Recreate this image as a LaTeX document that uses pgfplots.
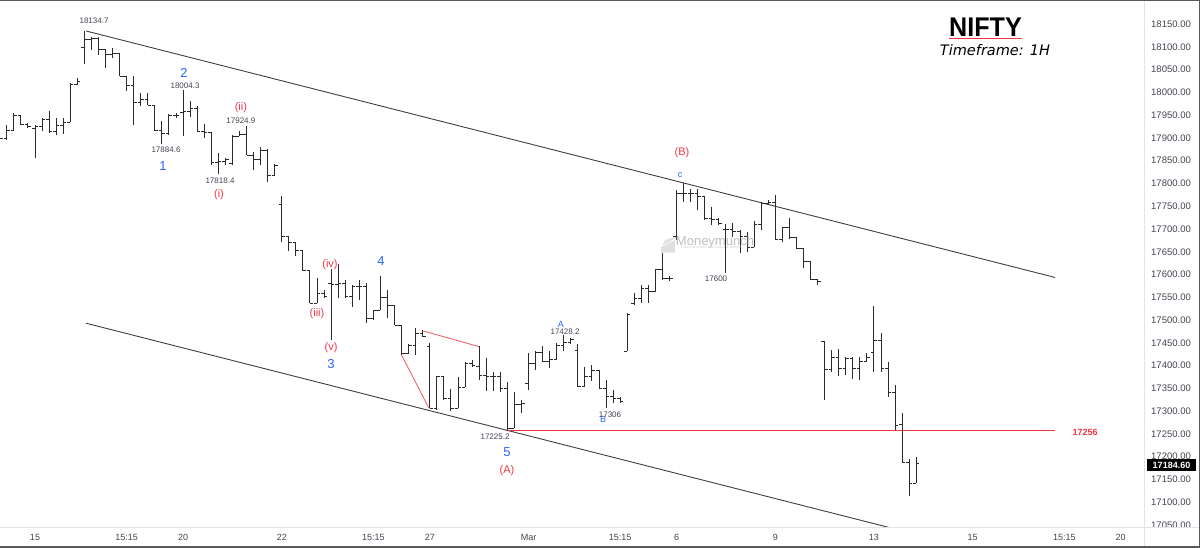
\documentclass[border=0pt]{standalone}
\usepackage{pgfplots}
\pgfplotsset{compat=1.18}
\usepackage{pgfplotstable}
\usepackage{fontspec}
\setmainfont{Liberation Sans}
\newfontfamily\dejavu{DejaVu Sans}
\definecolor{tvblue}{HTML}{2962FF}
\definecolor{tvred}{HTML}{F23645}
\definecolor{barcol}{HTML}{2A2A2A}
\definecolor{sepcol}{HTML}{E0E3EB}
\definecolor{txtcol}{HTML}{434651}

\pgfplotstableread{
i o h l c
-5 17910 17928 17852 17898
-4 17898 17928 17895 17917
-3 17917 17954 17915 17950
-2 17950 17950 17928 17930
-1 17930 17932 17921 17925
0 17920 17928 17855 17924
1 17924 17943 17914 17941
2 17941 17959 17910 17915
3 17915 17943 17906 17927
4 17928 17943 17908 17934
5 17934 18020 17934 18018
6 18018 18032 18015 18024
7 18098 18135 18062 18115
8 18115 18122 18093 18119
9 18119 18122 18082 18095
10 18095 18095 18054 18084
11 18084 18098 18075 18086
12 18086 18086 18035 18035
13 18035 18035 18003 18016
14 18016 18035 17928 17978
15 17978 17998 17969 17985
16 17985 17998 17972 17972
17 17972 17972 17915 17917
18 17917 17937 17886 17910
19 17910 17952 17906 17950
20 17950 17954 17943 17949
21 17956 18004 17904 17958
22 17958 17981 17945 17965
23 17965 17969 17915 17915
24 17915 17930 17899 17912
25 17912 17912 17840 17846
26 17846 17866 17820 17848
27 17848 17855 17840 17852
28 17844 17906 17840 17904
29 17904 17914 17903 17908
30 17908 17925 17862 17862
31 17862 17870 17830 17852
32 17852 17880 17840 17872
33 17872 17875 17803 17818
34 17818 17842 17818 17840
35 17753 17772 17672 17683
36 17683 17685 17652 17670
37 17670 17670 17641 17652
38 17652 17652 17608 17608
39 17608 17609 17537 17537
40 17537 17592 17537 17559
41 17559 17565 17548 17551
42 17580 17613 17456 17578
43 17578 17623 17548 17580
44 17581 17589 17548 17551
45 17551 17577 17529 17573
46 17573 17589 17544 17573
47 17573 17581 17493 17504
48 17504 17523 17500 17522
49 17522 17597 17522 17550
50 17550 17567 17504 17533
51 17533 17533 17489 17489
52 17489 17489 17423 17427
53 17427 17447 17425 17445
54 17445 17482 17423 17471
55 17470 17478 17463 17465
56 17442 17450 17306 17306
57 17306 17377 17303 17376
58 17376 17376 17325 17328
59 17328 17348 17301 17306
60 17306 17374 17306 17352
61 17352 17409 17352 17405
62 17405 17412 17398 17401
63 17398 17442 17368 17379
64 17379 17416 17345 17376
65 17376 17387 17345 17376
66 17376 17387 17343 17350
67 17350 17363 17257 17262
68 17262 17343 17262 17314
69 17314 17325 17295 17317
70 17361 17427 17347 17405
71 17405 17431 17390 17428
72 17428 17442 17407 17409
73 17409 17431 17394 17414
74 17414 17449 17412 17445
75 17445 17467 17431 17450
76 17450 17460 17448 17458
77 17434 17447 17354 17355
78 17355 17398 17354 17376
79 17376 17401 17367 17389
80 17389 17390 17350 17350
81 17350 17368 17306 17333
82 17333 17347 17317 17328
83 17328 17332 17317 17321
84 17431 17515 17431 17513
85 17537 17559 17533 17548
86 17548 17577 17537 17570
87 17570 17577 17537 17562
88 17562 17611 17562 17610
89 17610 17647 17589 17592
90 17592 17597 17586 17592
91 17683 17785 17676 17778
92 17778 17800 17760 17778
93 17778 17787 17760 17778
94 17778 17787 17742 17772
95 17772 17772 17720 17723
96 17723 17748 17709 17720
97 17720 17723 17709 17711
98 17698 17711 17604 17698
99 17698 17714 17683 17694
100 17694 17698 17648 17683
101 17683 17694 17650 17660
102 17660 17718 17660 17709
103 17709 17760 17698 17756
104 17756 17764 17753 17758
105 17758 17775 17676 17677
106 17677 17705 17672 17704
107 17704 17723 17679 17682
108 17682 17682 17658 17658
109 17658 17658 17614 17628
110 17628 17628 17588 17588
111 17588 17590 17577 17584
112 17452 17453 17325 17392
113 17392 17434 17385 17418
114 17418 17436 17377 17394
115 17394 17420 17379 17416
116 17416 17420 17370 17394
117 17394 17418 17368 17409
118 17409 17427 17409 17418
119 17428 17530 17387 17455
120 17455 17471 17387 17394
121 17394 17409 17332 17341
122 17341 17357 17259 17268
123 17270 17295 17186 17187
124 17187 17194 17114 17142
125 17142 17199 17142 17185
}\bars

\begin{document}
\begin{tikzpicture}
\fill[white] (0pt,0pt) rectangle (1200pt,548pt);
\useasboundingbox (0pt,0pt) rectangle (1200pt,548pt);
\begin{axis}[
  at={(0pt,20pt)}, anchor=south west,
  scale only axis, width=1144pt, height=526pt,
  xmin=-4.965, xmax=157.3, ymin=17043.5, ymax=18198.3,
  axis line style={draw=none},
  major tick length=0pt,
  clip mode=individual,
  xtick={0,13,21,35,48,56,70,83,91,105,119,133,146,154},
  xticklabels={15,15:15,20,22,15:15,27,Mar,15:15,6,9,13,15,15:15,20},
  xticklabel style={anchor=center, yshift=-9pt, inner sep=0pt, font=\fontsize{9}{10}\selectfont, text=txtcol},
  ytick={17050,17100,...,18200},
  yticklabels={17050.00,17100.00,17150.00,17200.00,17250.00,17300.00,17350.00,17400.00,17450.00,17500.00,17550.00,17600.00,17650.00,17700.00,17750.00,17800.00,17850.00,17900.00,17950.00,18000.00,18050.00,18100.00,18150.00,18200.00},
  yticklabel pos=right,
  yticklabel style={anchor=west, xshift=7pt, inner sep=0pt, font=\fontsize{9.5}{10}\selectfont, text=txtcol},
]
% watermark icon (faint)
\addplot[fill=black!12, draw=none] coordinates {(88.8,17648) (88.8,17660) (90.8,17676) (90.8,17648)} -- cycle;
\addplot[fill=black!12, draw=none] coordinates {(89.4,17676) (91.6,17686) (89.0,17664)} -- cycle;
% channel lines
\addplot[barcol!90, line width=0.9pt] coordinates {(7.23,18134.7) (144.7,17593.5)};
\addplot[barcol!90, line width=0.9pt] coordinates {(7.23,17493.1) (121.4,17043.6)};
% red lines
\addplot[tvred, line width=1pt] coordinates {(67.05,17256.5) (144.7,17256.5)};
\addplot[tvred!85, line width=0.8pt] coordinates {(52.0,17423) (55.9,17306)};
\addplot[tvred!85, line width=0.8pt] coordinates {(55.08,17476) (63.02,17441.5)};
% OHLC bars: high-low
\addplot[draw=none, mark=none, error bars/.cd, y dir=plus, y explicit, error mark=none,
  error bar style={draw=barcol, solid, line width=1pt}]
  table[x=i, y=l, y error plus expr=\thisrow{h}-\thisrow{l}] {\bars};
% open ticks
\addplot[draw=none, mark=none, error bars/.cd, x dir=minus, x explicit, error mark=none,
  error bar style={draw=barcol, solid, line width=1pt}]
  table[x=i, y=o, x error expr=0.45] {\bars};
% close ticks
\addplot[draw=none, mark=none, error bars/.cd, x dir=plus, x explicit, error mark=none,
  error bar style={draw=barcol, solid, line width=1pt}]
  table[x=i, y=c, x error expr=0.45] {\bars};

% watermark
\node[text=black!25, font=\fontsize{13}{14}\selectfont] at (96.45,17671) {Moneymunch};
\node[text=black!18, font=\fontsize{3.5}{4}\selectfont] at (96.0,17658) {Financial market forecasting \& analysis};

% value labels
\tikzset{vl/.style={text=txtcol, font=\fontsize{8}{9}\selectfont, inner sep=0pt},
  bl/.style={text=tvblue, font=\fontsize{13}{14}\selectfont, inner sep=0pt},
  bs/.style={text=tvblue, font=\fontsize{9}{10}\selectfont, inner sep=0pt},
  rl/.style={text=tvred, font=\fontsize{11}{12}\selectfont, inner sep=0pt}}
\node[vl] at (8.37,18156.6) {18134.7};
\node[bl] at (21.13,18042.4) {2};
\node[vl] at (21.28,18013.9) {18004.3};
\node[rl] at (29.2,17965.6) {(ii)};
\node[vl] at (29.2,17937) {17924.9};
\node[vl] at (18.58,17873.4) {17884.6};
\node[bl] at (18.16,17838.2) {1};
\node[vl] at (26.24,17805.3) {17818.4};
\node[rl] at (26.1,17774.6) {(i)};
\node[rl] at (41.84,17620.9) {(iv)};
\node[bl] at (49.08,17629.7) {4};
\node[rl] at (40.0,17513.3) {(iii)};
\node[rl] at (41.99,17438.7) {(v)};
\node[bl] at (41.99,17403.6) {3};
\node[bs] at (74.6,17491.4) {A};
\node[vl] at (75.18,17473.8) {17428.2};
\node[bs] at (80.57,17282.8) {B};
\node[vl] at (81.56,17291.6) {17306};
\node[vl] at (65.25,17243.3) {17225.2};
\node[bl] at (66.95,17210.4) {5};
\node[rl] at (66.95,17168.7) {(A)};
\node[rl] at (91.77,17866.8) {(B)};
\node[bs] at (91.49,17818.5) {c};
\node[vl] at (96.6,17590.2) {17600};
\node[text=tvred, font=\bfseries\fontsize{9}{10}\selectfont, inner sep=0pt] at (148.94,17254.3) {17256};
\end{axis}
% separators
\draw[sepcol, line width=1pt] (0pt,20pt) -- (1200pt,20pt);
\draw[sepcol, line width=1pt] (1144pt,0pt) -- (1144pt,548pt);
% price tag
\node[fill=black, text=white, font=\bfseries\fontsize{9}{10}\selectfont, minimum width=49pt, minimum height=12pt, inner sep=0pt] at (1171.5pt,83pt) {17184.60};
% title
\node[font=\bfseries\fontsize{27}{28}\selectfont, inner sep=0pt, xscale=0.93] at (985.5pt,521pt) {NIFTY};
\draw[tvred, line width=1.5pt] (949pt,509.5pt) -- (1022pt,509.5pt);
\node[font=\dejavu\itshape\fontsize{14.5}{15}\selectfont, inner sep=0pt] at (995pt,498pt) {Timeframe: 1H};
% frame
\draw[black!65, line width=3pt] (0pt,548pt) -- (1200pt,548pt) -- (1200pt,0pt) -- (0pt,0pt);
\end{tikzpicture}
\end{document}
